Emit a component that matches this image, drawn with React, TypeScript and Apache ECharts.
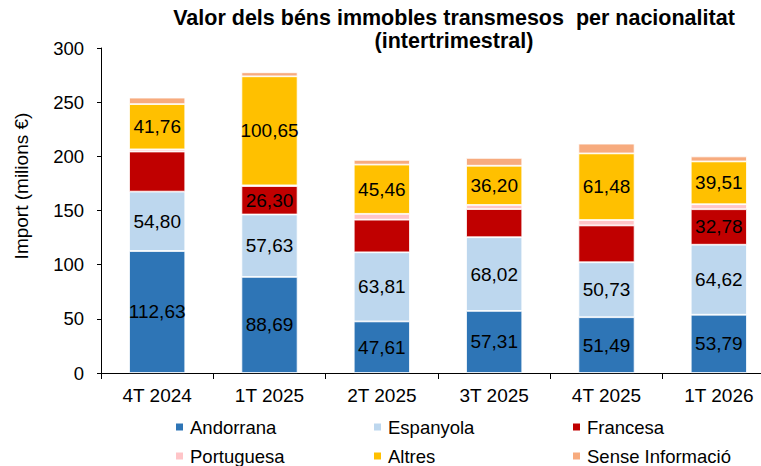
import React, { useEffect, useRef } from "react";
import * as echarts from "echarts";

const categories = ["4T 2024", "1T 2025", "2T 2025", "3T 2025", "4T 2025", "1T 2026"];
const andorrana = [112.63, 88.69, 47.61, 57.31, 51.49, 53.79];
const espanyola = [54.8, 57.63, 63.81, 68.02, 50.73, 64.62];
const francesa = [37.0, 26.3, 30.1, 26.0, 34.0, 32.78];
const portuguesa = [2.0, 0.6, 5.4, 3.8, 5.0, 4.6];
const altres = [41.76, 100.65, 45.46, 36.2, 61.48, 39.51];
const senseInfo = [6.0, 3.7, 4.3, 7.2, 9.0, 4.6];
const francesaLabelled = [false, true, false, false, false, true];
const yTicks = [0, 50, 100, 150, 200, 250, 300];

const FONT = "'Liberation Sans', Arial, sans-serif";

const fmt = (v: number) => v.toFixed(2).replace(".", ",");

export default function App() {
  const ref = useRef<HTMLDivElement>(null);
  useEffect(() => {
    if (!ref.current) return;
    const chart = echarts.init(ref.current, undefined, { renderer: "svg" });
    const label = {
      show: true,
      position: "inside" as const,
      color: "#000",
      fontFamily: FONT,
      fontSize: 19,
      formatter: (p: any) => fmt(p.value),
    };
    const mk = (name: string, data: number[], color: string, showLabel: boolean[] | boolean) => ({
      name,
      type: "bar",
      stack: "total",
      barWidth: "50%",
      itemStyle: { color, borderColor: "#fff", borderWidth: 0.8 },
      data: data.map((v, i) => ({
        value: v,
        label: {
          ...label,
          show: Array.isArray(showLabel) ? showLabel[i] : showLabel,
        },
      })),
    });
    const legendPos = [
      { name: "Andorrana", left: 174, top: 417 },
      { name: "Espanyola", left: 372, top: 417 },
      { name: "Francesa", left: 571, top: 417 },
      { name: "Portuguesa", left: 174, top: 446 },
      { name: "Altres", left: 372, top: 446 },
      { name: "Sense Informació", left: 571, top: 446 },
    ];
    chart.setOption({
      animation: false,
      textStyle: { fontFamily: FONT },
      grid: {
        left: 101,
        width: 674,
        top: 48,
        bottom: 93,
        containLabel: false,
        outerBoundsMode: "none",
      },
      graphic: [
        {
          type: "text",
          x: 454,
          y: 18,
          style: {
            text: "Valor dels béns immobles transmesos  per nacionalitat",
            font: `bold 21.5px ${FONT}`,
            fill: "#000",
            textAlign: "center",
            textVerticalAlign: "middle",
          },
        },
        {
          type: "text",
          x: 454,
          y: 40.5,
          style: {
            text: "(intertrimestral)",
            font: `bold 21.5px ${FONT}`,
            fill: "#000",
            textAlign: "center",
            textVerticalAlign: "middle",
          },
        },
        {
          type: "text",
          x: 21,
          y: 186,
          rotation: Math.PI / 2,
          style: {
            text: "Import (milions €)",
            font: `19px ${FONT}`,
            fill: "#000",
            textAlign: "center",
            textVerticalAlign: "middle",
          },
        },
      ],
      legend: legendPos.map((l) => ({
        data: [l.name],
        left: l.left,
        top: l.top,
        icon: "rect",
        itemWidth: 9,
        itemHeight: 9,
        itemGap: 0,
        padding: 0,
        textStyle: { fontFamily: FONT, fontSize: 18.5, color: "#000", lineHeight: 20, padding: [0, 0, 0, 1] },
        selectedMode: false,
      })),
      xAxis: {
        type: "category",
        data: categories,
        axisLine: { lineStyle: { color: "#000", width: 1 } },
        axisTick: { show: true, alignWithLabel: false, length: 6, lineStyle: { color: "#000" } },
        axisLabel: { color: "#000", fontFamily: FONT, fontSize: 19, margin: 13 },
      },
      yAxis: {
        type: "value",
        min: 0,
        max: 300,
        interval: 50,
        axisLine: { show: true, lineStyle: { color: "#000", width: 1 } },
        axisTick: { show: true, length: 4, lineStyle: { color: "#000" } },
        axisLabel: {
          color: "#000",
          fontFamily: FONT,
          fontSize: 18.5,
          margin: 17,
          formatter: (v: number) => (yTicks.includes(v) ? String(v) : ""),
        },
        splitLine: { show: false },
      },
      series: [
        mk("Andorrana", andorrana, "#2E75B6", true),
        mk("Espanyola", espanyola, "#BDD7EE", true),
        mk("Francesa", francesa, "#C00000", francesaLabelled),
        mk("Portuguesa", portuguesa, "#FFC5C8", false),
        mk("Altres", altres, "#FFC000", true),
        mk("Sense Informació", senseInfo, "#F7AB7E", false),
      ],
    });
    return () => chart.dispose();
  }, []);
  return (
    <div
      ref={ref}
      style={{ position: "fixed", left: 0, top: 0, width: 761, height: 466, background: "#fff" }}
    />
  );
}
